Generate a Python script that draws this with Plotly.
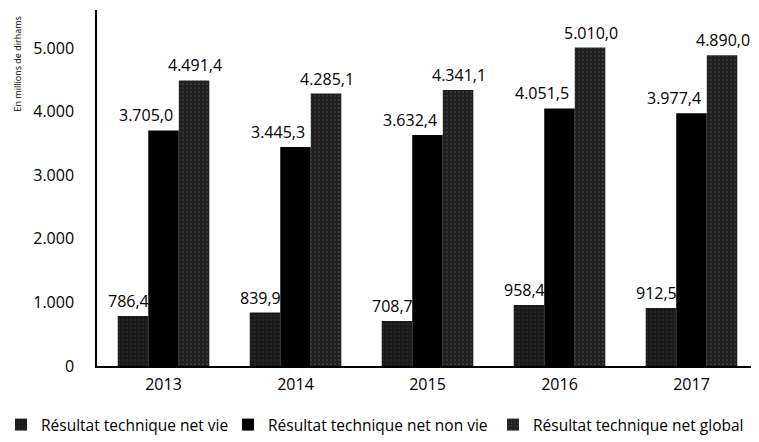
import plotly.graph_objects as go

years = ["2013", "2014", "2015", "2016", "2017"]
vie = [786.4, 839.9, 708.7, 958.4, 912.5]
non_vie = [3705.0, 3445.3, 3632.4, 4051.5, 3977.4]
global_ = [4491.4, 4285.1, 4341.1, 5010.0, 4890.0]
series_names = ["Résultat technique net vie", "Résultat technique net non vie", "Résultat technique net global"]
y_ticks = [0, 1000, 2000, 3000, 4000, 5000]

FONT = "Open Sans"
W, H = 759, 442
ML, MT, MB = 89, 2, 84
BARGAP = 0.306

def fr(v):
    s = f"{v:,.1f}"
    return s.replace(",", "X").replace(".", ",").replace("X", ".")

def fint(v):
    return f"{v:,.0f}".replace(",", ".")

fig = go.Figure()
styles = [
    dict(color="#1a1a1a", pattern=dict(shape=".", fgcolor="#5a5a5a", bgcolor="#1a1a1a", size=4, solidity=0.12)),
    dict(color="#000000"),
    dict(color="#202020", pattern=dict(shape=".", fgcolor="#707070", bgcolor="#202020", size=4, solidity=0.15)),
]
widths = [182, 220, 214]
for name, vals, st, lw in zip(series_names, [vie, non_vie, global_], styles, widths):
    fig.add_trace(go.Bar(x=years, y=vals, name=name, marker=dict(line=dict(width=0), **st),
                         legendwidth=lw, hoverinfo="x+y"))

bw = (1 - BARGAP) / 3
shifts = [-4, -18, 1]
for k, (vals, xs) in enumerate(zip([vie, non_vie, global_], shifts)):
    for i, v in enumerate(vals):
        fig.add_annotation(x=i + (k - 1) * bw, y=v, xref="x", yref="y", text=fr(v),
                           showarrow=False, xshift=xs, yshift=15, yanchor="middle",
                           font=dict(family=FONT, size=16, color="#000"))

plot_h = H - MT - MB
fig.add_annotation(x=0, y=1 - 54 / plot_h, xref="paper", yref="paper",
                   text="En millions de dirhams", textangle=-90, showarrow=False,
                   xanchor="left", yanchor="middle", font=dict(family=FONT, size=9, color="#000"))

fig.update_layout(
    width=W, height=H,
    margin=dict(l=0, r=0, t=MT, b=MB, autoexpand=False),
    paper_bgcolor="white", plot_bgcolor="white",
    barmode="group", bargap=BARGAP, bargroupgap=0,
    font=dict(family=FONT, size=16, color="#000"),
    showlegend=True,
    legend=dict(orientation="h", x=-7 / W, xanchor="left", y=-42 / plot_h, yanchor="top",
                font=dict(family=FONT, size=15.5, color="#000"), itemwidth=30,
                bgcolor="rgba(0,0,0,0)", traceorder="normal"),
    xaxis=dict(domain=[ML / W, 1], range=[-0.504, 4.572], showline=True, linecolor="#000", linewidth=1.5,
               showgrid=False, ticks="", tickfont=dict(family=FONT, size=16), ticklabelstandoff=3,
               automargin=False),
    yaxis=dict(range=[0, 5600], tickvals=y_ticks, ticktext=[fint(t) for t in y_ticks],
               showline=True, linecolor="#000", linewidth=1.5, showgrid=False, zeroline=False,
               ticks="", tickfont=dict(family=FONT, size=16), ticklabelstandoff=18, automargin=False),
)

fig.write_html("out.html")
